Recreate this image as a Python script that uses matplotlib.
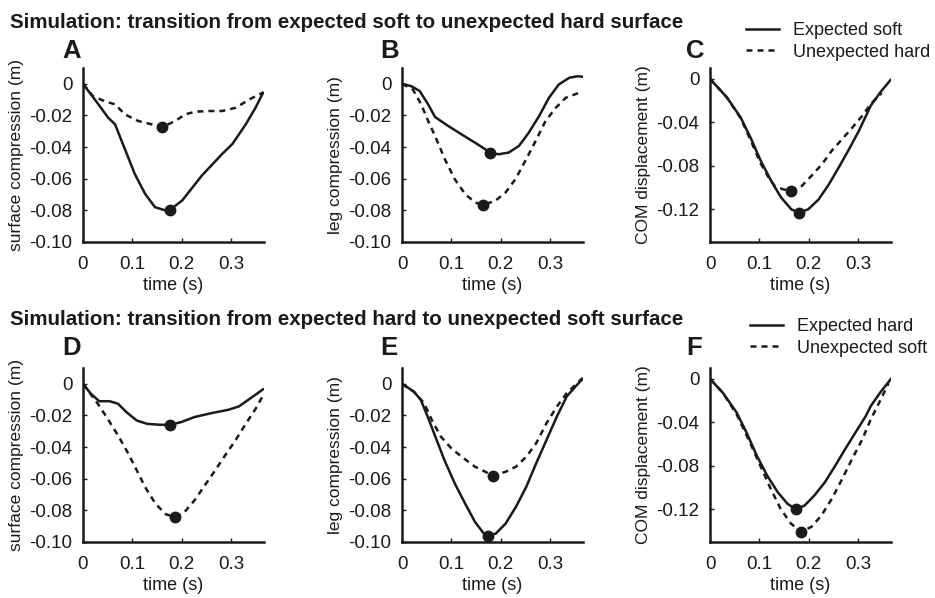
#!/usr/bin/env python3
"""Simulated surface/leg/COM traces for the two unexpected surface transitions."""

import matplotlib
matplotlib.use('Agg')
import matplotlib.pyplot as plt
from matplotlib.lines import Line2D


# --- row 1: expected soft -> unexpected hard -------------------------------
# A: surface compression (m)
a_soft_t = [0.0, 0.024, 0.051, 0.065, 0.085, 0.105, 0.126, 0.146, 0.167,
            0.177, 0.201, 0.241, 0.282, 0.303, 0.330, 0.350, 0.365]
a_soft_v = [0.0, -0.0099, -0.0214, -0.0256, -0.0413, -0.057, -0.0696,
            -0.078, -0.080, -0.0795, -0.0738, -0.058, -0.0444, -0.038,
            -0.0256, -0.015, -0.0057]
a_hard_t = [0.0, 0.020, 0.044, 0.065, 0.085, 0.112, 0.139, 0.161, 0.187,
            0.207, 0.228, 0.255, 0.282, 0.310, 0.337, 0.365]
a_hard_v = [0.0, -0.0078, -0.011, -0.013, -0.0193, -0.0235, -0.0256,
            -0.0273, -0.0235, -0.0193, -0.0176, -0.0172, -0.0172, -0.0151,
            -0.0099, -0.0055]
a_min_t = [0.177, 0.161]
a_min_v = [-0.0795, -0.0273]

# B: leg compression (m)
b_soft_t = [0.0, 0.019, 0.036, 0.053, 0.067, 0.094, 0.121, 0.148, 0.169,
            0.179, 0.196, 0.216, 0.237, 0.257, 0.278, 0.298, 0.318, 0.339,
            0.356, 0.365]
b_soft_v = [0.0, -0.0015, -0.0046, -0.013, -0.021, -0.0267, -0.032,
            -0.0372, -0.0414, -0.0439, -0.0445, -0.0435, -0.0393, -0.0309,
            -0.0204, -0.0088, -0.0004, 0.0038, 0.0048, 0.0045]
b_hard_t = [0.0, 0.022, 0.039, 0.053, 0.067, 0.087, 0.107, 0.128, 0.148,
            0.164, 0.189, 0.210, 0.230, 0.250, 0.271, 0.291, 0.312, 0.332,
            0.359]
b_hard_v = [0.0, -0.0036, -0.013, -0.0235, -0.033, -0.0477, -0.0603,
            -0.0697, -0.075, -0.0765, -0.074, -0.0687, -0.0603, -0.0487,
            -0.0361, -0.0235, -0.0151, -0.0088, -0.0057]
b_min_t = [0.179, 0.164]
b_min_v = [-0.0439, -0.0765]

# C: COM displacement (m)
c_soft_t = [0.0, 0.034, 0.062, 0.082, 0.103, 0.124, 0.144, 0.165, 0.180,
            0.199, 0.220, 0.241, 0.261, 0.282, 0.302, 0.326, 0.346, 0.366]
c_soft_v = [0.0, -0.0169, -0.0354, -0.0538, -0.0754, -0.0938, -0.109,
            -0.120, -0.123, -0.120, -0.111, -0.097, -0.0815, -0.0646,
            -0.0477, -0.0246, -0.012, -0.001]
c_hard_t = [0.0, 0.034, 0.062, 0.082, 0.103, 0.118, 0.131, 0.148, 0.164,
            0.186, 0.206, 0.227, 0.247, 0.268, 0.289, 0.309, 0.326, 0.348]
c_hard_v = [0.0, -0.0169, -0.0360, -0.0560, -0.0780, -0.0900, -0.0985,
            -0.1015, -0.103, -0.0985, -0.089, -0.0785, -0.066, -0.0554,
            -0.0446, -0.0338, -0.023, -0.013]
c_min_t = [0.180, 0.164]
c_min_v = [-0.123, -0.103]

# --- row 2: expected hard -> unexpected soft -------------------------------
# D: surface compression (m)
d_hard_t = [0.0, 0.016, 0.033, 0.054, 0.071, 0.088, 0.109, 0.130, 0.157,
            0.177, 0.199, 0.226, 0.261, 0.295, 0.316, 0.343, 0.365]
d_hard_v = [0.0, -0.0063, -0.011, -0.011, -0.0126, -0.0179, -0.0232,
            -0.0253, -0.0259, -0.0259, -0.0242, -0.021, -0.0185, -0.0164,
            -0.0143, -0.0084, -0.0035]
d_soft_t = [0.0, 0.030, 0.050, 0.071, 0.092, 0.109, 0.126, 0.147, 0.168,
            0.187, 0.206, 0.226, 0.247, 0.268, 0.288, 0.309, 0.330, 0.350,
            0.365]
d_soft_v = [0.0, -0.0126, -0.0221, -0.0326, -0.0442, -0.0547, -0.0653,
            -0.0758, -0.0825, -0.0842, -0.081, -0.0737, -0.0642, -0.0547,
            -0.0453, -0.0358, -0.0253, -0.0158, -0.0074]
d_min_t = [0.177, 0.187]
d_min_v = [-0.0259, -0.0842]

# E: leg compression (m)
e_hard_t = [0.0, 0.024, 0.038, 0.052, 0.069, 0.086, 0.107, 0.128, 0.148,
            0.166, 0.174, 0.190, 0.210, 0.231, 0.252, 0.272, 0.293, 0.314,
            0.334, 0.355, 0.366]
e_hard_v = [0.0, -0.0049, -0.0101, -0.0207, -0.0345, -0.0482, -0.063,
            -0.0757, -0.0873, -0.0947, -0.0962, -0.0947, -0.0884, -0.0778,
            -0.0651, -0.0503, -0.0355, -0.0207, -0.008, -0.0006, 0.003]
e_soft_t = [0.0, 0.024, 0.045, 0.062, 0.079, 0.100, 0.121, 0.148, 0.169,
            0.184, 0.210, 0.231, 0.252, 0.272, 0.293, 0.314, 0.334, 0.355,
            0.366]
e_soft_v = [0.0, -0.005, -0.0123, -0.0239, -0.0334, -0.0408, -0.0461,
            -0.0524, -0.0556, -0.0583, -0.0556, -0.0524, -0.0461, -0.0376,
            -0.0249, -0.0144, -0.0059, 0.0004, 0.0036]
e_min_t = [0.174, 0.184]
e_min_v = [-0.0962, -0.0583]

# F: COM displacement (m)
f_hard_t = [0.0, 0.026, 0.054, 0.074, 0.095, 0.116, 0.137, 0.157, 0.174,
            0.192, 0.212, 0.233, 0.254, 0.274, 0.295, 0.316, 0.326, 0.346,
            0.367]
f_hard_v = [0.0, -0.0128, -0.031, -0.0493, -0.0707, -0.089, -0.104,
            -0.1148, -0.120, -0.1164, -0.107, -0.095, -0.0798, -0.0646,
            -0.0493, -0.0341, -0.025, -0.012, 0.0]
f_soft_t = [0.0, 0.026, 0.054, 0.081, 0.102, 0.123, 0.143, 0.164, 0.185,
            0.206, 0.226, 0.247, 0.268, 0.288, 0.309, 0.326, 0.345, 0.362]
f_soft_v = [0.0, -0.0128, -0.0326, -0.0585, -0.0798, -0.101, -0.1194,
            -0.133, -0.1407, -0.136, -0.1255, -0.1103, -0.092, -0.0737,
            -0.0554, -0.0372, -0.020, -0.004]
f_min_t = [0.174, 0.185]
f_min_v = [-0.120, -0.1407]

time_ticks = [0.0, 0.1, 0.2, 0.3]
time_labels = ['0', '0.1', '0.2', '0.3']
comp_ticks = [0.0, -0.02, -0.04, -0.06, -0.08, -0.10]
comp_labels = ['0', '-0.02', '-0.04', '-0.06', '-0.08', '-0.10']
com_ticks = [0.0, -0.04, -0.08, -0.12]
com_labels = ['0', '-0.04', '-0.08', '-0.12']

row_titles = [
    'Simulation: transition from expected soft to unexpected hard surface',
    'Simulation: transition from expected hard to unexpected soft surface',
]
legend_labels = [
    ['Expected soft', 'Unexpected hard'],
    ['Expected hard', 'Unexpected soft'],
]
ylabels = ['surface compression (m)', 'leg compression (m)',
           'COM displacement (m)']

INK = '#1a1a1a'
W, H = 935, 598


def px(x, y):
    """Pixel position (from top-left) to figure fraction."""
    return x / W, 1 - y / H


def style_axis(axis, yticks, ylabels_, ylim, ylabel):
    axis.set_xlim(0, 0.367)
    axis.set_ylim(*ylim)
    axis.set_xticks(time_ticks)
    axis.set_xticklabels(time_labels)
    axis.set_yticks(yticks)
    axis.set_yticklabels(ylabels_)
    for side in ('top', 'right'):
        axis.spines[side].set_visible(False)
    for side in ('left', 'bottom'):
        axis.spines[side].set_linewidth(1.8)
        axis.spines[side].set_color(INK)
    axis.tick_params(axis='both', direction='in', length=3, width=1,
                     colors=INK, labelsize=13.5)
    axis.tick_params(axis='x', pad=10)
    axis.tick_params(axis='y', pad=7.5)
    axis.set_xlabel('time (s)', fontsize=13, color=INK, labelpad=3)
    axis.set_ylabel(ylabel, fontsize=12.5, color=INK, labelpad=4)


def draw(axis, solid, dashed, minima):
    axis.plot(solid[0], solid[1], color=INK, linewidth=1.8)
    axis.plot(dashed[0], dashed[1], color=INK, linewidth=1.8,
              linestyle=(0, (2.4, 2.0)))
    axis.plot(minima[0], minima[1], 'o', color=INK, markersize=7.5,
              zorder=5)


def main() -> None:
    plt.rcParams['font.family'] = ['Liberation Sans', 'DejaVu Sans']
    plt.rcParams['axes.unicode_minus'] = False

    fig = plt.figure(figsize=(W / 100, H / 100), dpi=100)

    lefts = [83, 402, 710]
    bottoms = [242, 542]
    ax_w, ax_h = 181, 174

    panels = [
        [((a_soft_t, a_soft_v), (a_hard_t, a_hard_v), (a_min_t, a_min_v)),
         ((b_soft_t, b_soft_v), (b_hard_t, b_hard_v), (b_min_t, b_min_v)),
         ((c_soft_t, c_soft_v), (c_hard_t, c_hard_v), (c_min_t, c_min_v))],
        [((d_hard_t, d_hard_v), (d_soft_t, d_soft_v), (d_min_t, d_min_v)),
         ((e_hard_t, e_hard_v), (e_soft_t, e_soft_v), (e_min_t, e_min_v)),
         ((f_hard_t, f_hard_v), (f_soft_t, f_soft_v), (f_min_t, f_min_v))],
    ]
    letters = [['A', 'B', 'C'], ['D', 'E', 'F']]
    letter_x = [62, 380, 686]

    for row in range(2):
        for col in range(3):
            x0, y0 = px(lefts[col], bottoms[row])
            axis = fig.add_axes([x0, y0, ax_w / W, ax_h / H])
            solid, dashed, minima = panels[row][col]
            draw(axis, solid, dashed, minima)
            if col < 2:
                style_axis(axis, comp_ticks, comp_labels, (-0.10, 0.01),
                           ylabels[col])
            else:
                style_axis(axis, com_ticks, com_labels, (-0.15, 0.01),
                           ylabels[col])
            lx, ly = px(letter_x[col], 58 + row * 297)
            fig.text(lx, ly, letters[row][col], fontsize=18.5,
                     fontweight='bold', color=INK, va='baseline')

        tx, ty = px(10, 28 + row * 297)
        fig.text(tx, ty, row_titles[row], fontsize=14.8, fontweight='bold',
                 color=INK, va='baseline')

        handles = [
            Line2D([], [], color=INK, linewidth=1.8),
            Line2D([], [], color=INK, linewidth=1.8,
                   linestyle=(0, (2.4, 2.0))),
        ]
        bx, by = px(746 + row * 4, 22 + row * 296)
        fig.legend(handles, legend_labels[row], loc='upper left',
                   bbox_to_anchor=(bx, by), frameon=False, fontsize=13,
                   borderpad=0, borderaxespad=0, handlelength=1.85,
                   handletextpad=0.75, labelspacing=0.25, labelcolor=INK)

    fig.savefig('out.png', dpi=100)


if __name__ == '__main__':
    main()
